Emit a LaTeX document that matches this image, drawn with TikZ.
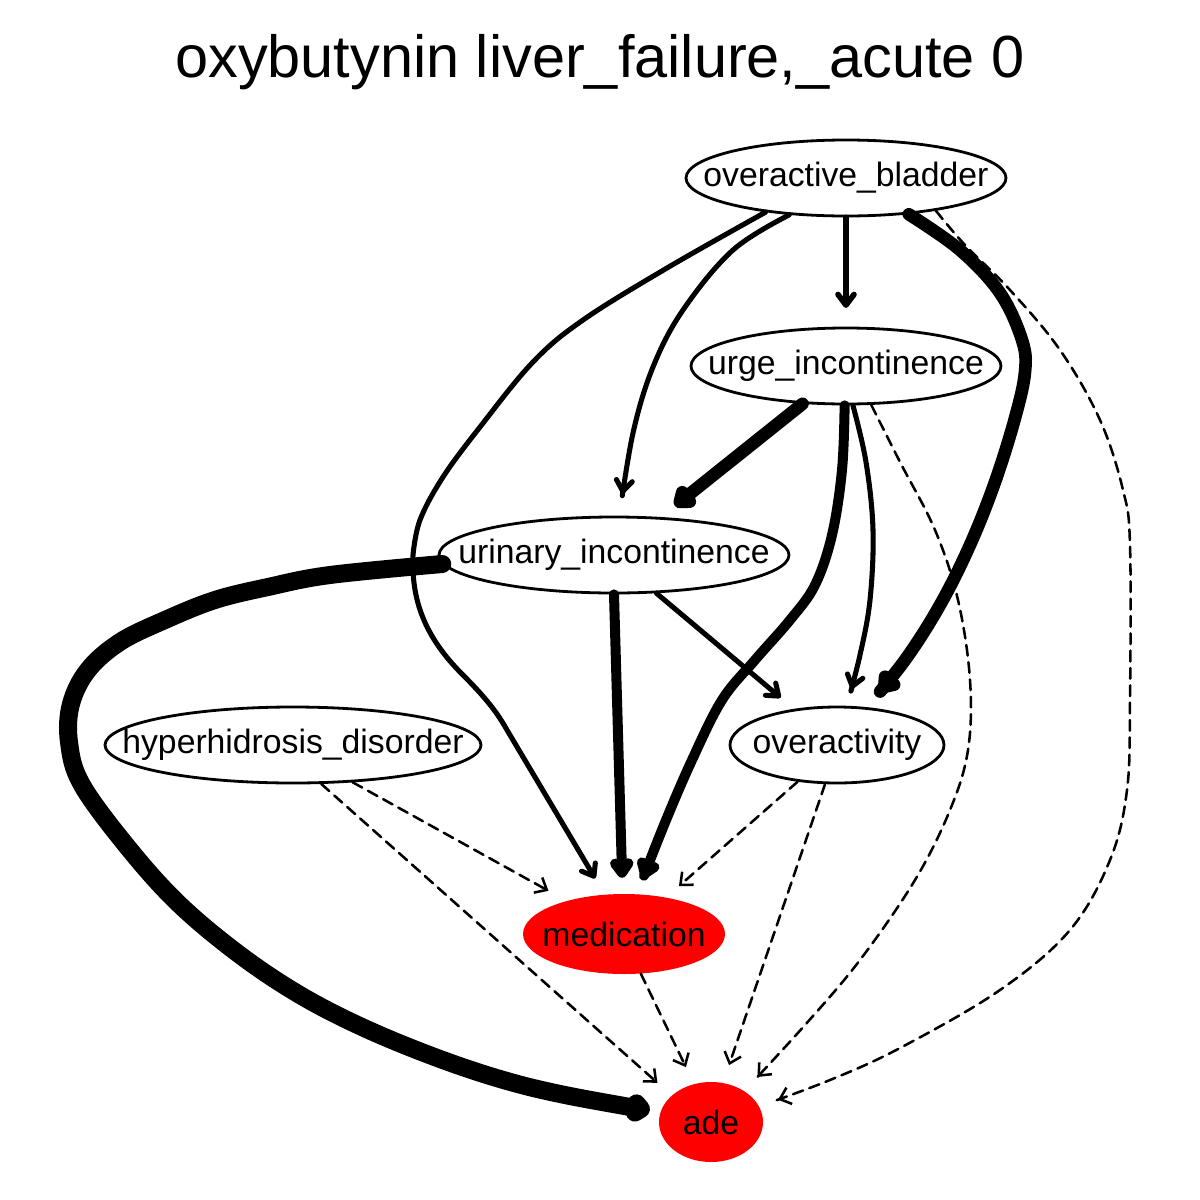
\documentclass[tikz,border=0pt]{standalone}
\usepackage{fontspec}
\setmainfont{Liberation Sans}
\usetikzlibrary{arrows.meta,shapes.geometric}
\definecolor{nodered}{RGB}{255,0,0}
\tikzset{
  nd/.style={ellipse, draw=black, line width=2.1pt, fill=white, inner sep=0pt,
    minimum height=57pt, font=\fontsize{25.3}{30}\selectfont},
  rd/.style={ellipse, draw=none, fill=nodered, inner sep=0pt,
    minimum height=60pt, font=\fontsize{25.3}{30}\selectfont},
  ed/.style={line cap=round, line join=round, black},
  w1/.style={ed, line width=3.8pt, -{Straight Barb[length=8pt,width=12pt,round]}},
  w2/.style={ed, line width=7.5pt, -{Straight Barb[length=7pt,width=10pt,round]}},
  w3/.style={ed, line width=9.5pt, -{Straight Barb[length=6pt,width=9pt,round]}},
  w4/.style={ed, line width=13.5pt, -{Straight Barb[length=4pt,width=7pt,round]}},
  dsh/.style={ed, line width=1.9pt, dash pattern=on 8pt off 5pt,
    -{Straight Barb[length=7.5pt,width=13pt]}},
}
\newcommand{\lbl}[1]{\makebox[0pt]{#1}}
\begin{document}
\begin{tikzpicture}[x=0.75pt,y=-0.75pt]
\path[use as bounding box, fill=white] (0,0) rectangle (1200,1200);
\node[font=\fontsize{44.6}{50}\selectfont] (title) at (600,62) {oxybutynin liver\_failure,\_acute 0};

\node[nd, minimum width=240pt] (ob) at (846,178) {\lbl{overactive\_bladder}};
\node[nd, minimum width=232.5pt] (urge) at (846,366) {\lbl{urge\_incontinence}};
\node[nd, minimum width=262.5pt] (uri) at (614,555) {\lbl{urinary\_incontinence}};
\node[nd, minimum width=282pt] (hyp) at (293,745) {\lbl{hyperhidrosis\_disorder}};
\node[nd, minimum width=160.5pt] (ova) at (837,745) {\lbl{overactivity}};
\node[rd, minimum width=151.5pt] (med) at (624,934) {\lbl{medication}};
\node[rd, minimum width=78pt] (ade) at (711,1122) {\lbl{ade}};

% overactive_bladder edges
\draw[w1, line width=4.2pt, shorten >=14pt] (ob.south) -- (urge.north);
\draw[w1, shorten >=16.6pt] plot[smooth, tension=0.6] coordinates
  {(ob.213.5) (733,250) (683,310) (653,367) (633,433) (uri.82.4)};
\draw[w1, shorten >=14pt] plot[smooth, tension=0.6] coordinates
  {(ob.203.9) (667,268) (583,320) (533,362) (480,427) (443,477) (420,520)
   (413,555)} .. controls (411,600) and (425,637) .. (462,674)
   .. controls (485,697) and (497,712) .. (507,730) -- (med.116.6);
\draw[w3, shorten >=15.5pt] plot[smooth, tension=0.6] coordinates
  {(ob.330) (960,250) (1000,293) (1022,340) (1025,372) (1015,418) (995,482)
   (970,545) (940,605) (905,660) (ova.52.3)};
\draw[dsh, shorten >=15pt] plot[smooth, tension=0.6] coordinates
  {(ob.340) (965,245) (1010,290) (1060,350) (1100,420) (1123,490) (1130,545)
   (1130,700) (1127,790) (1110,860) (1070,930) (1000,990) (900,1048) (830,1080) (ade.18.2)};

% urge_incontinence edges
\draw[w3, shorten >=13.4pt] (urge.221.6) -- (uri.39.1);
\draw[w2, shorten >=12.8pt] plot[smooth, tension=0.6] coordinates
  {(urge.268) (842,470) (832,535) (815,585) (790,620) (755,660) (722,700)
   (692,760) (664,825) (med.72.2)};
\draw[w1, shorten >=13.2pt] plot[smooth, tension=0.6] coordinates
  {(urge.280) (866,462) (873,530) (870,600) (860,655) (ova.76.7)};
\draw[dsh, shorten >=14.4pt] plot[smooth, tension=0.6] coordinates
  {(urge.303) (900,462) (935,530) (958,600) (970,680) (968,750) (950,810)
   (915,880) (860,960) (805,1025) (ade.43.1)};

% urinary_incontinence edges
\draw[w2, shorten >=12pt] (uri.south) -- (med.92);
\draw[w1, shorten >=13pt] (uri.318) -- (ova.140.6);
\draw[w4, shorten >=8pt] plot[smooth, tension=0.6] coordinates
  {(uri.183) (330,575) (268,587) (215,600) (165,620) (120,642) (88,670)
   (71,704) (69,742) (82,785) (130,850) (180,905) (240,955) (300,995)
   (362,1027) (432,1056) (500,1079) (565,1095) (ade.169)};

% hyperhidrosis edges
\draw[dsh, shorten >=15.5pt] (hyp.328.5) -- (med.150.5);
\draw[dsh, shorten >=14.3pt] (hyp.306) -- (ade.146);

% overactivity edges
\draw[dsh, shorten >=12.8pt] (ova.223.5) -- (med.41.6);
\draw[dsh, shorten >=14pt] (ova.253) -- (ade.73.4);

% medication edge
\draw[dsh, shorten >=14pt] (med.293.5) -- (ade.114.4);
\end{tikzpicture}
\end{document}
